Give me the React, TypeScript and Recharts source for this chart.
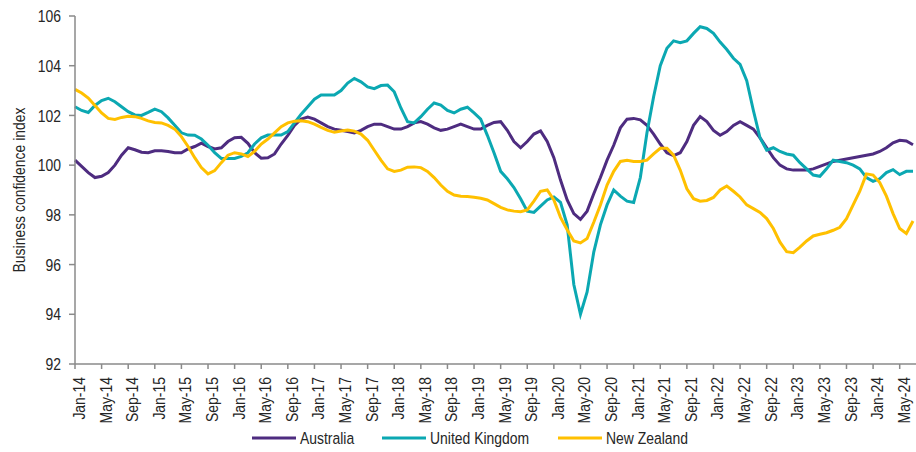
import { Legend, Line, LineChart, XAxis, YAxis } from "recharts";

const MONTH_NAMES = ["Jan", "Feb", "Mar", "Apr", "May", "Jun", "Jul", "Aug", "Sep", "Oct", "Nov", "Dec"];
const FIRST_YEAR = 14;

// monthly readings, Jan-14 .. Jul-24
const australia = [
  100.2, 99.95, 99.7, 99.5, 99.55, 99.7, 100.0, 100.4, 100.7, 100.62, 100.52, 100.5,
  100.58, 100.58, 100.55, 100.5, 100.5, 100.65, 100.75, 100.88, 100.75, 100.65, 100.7, 100.95,
  101.1, 101.12, 100.88, 100.5, 100.28, 100.3, 100.45, 100.85, 101.2, 101.6, 101.85, 101.93,
  101.85, 101.7, 101.55, 101.45, 101.4, 101.35, 101.3, 101.4, 101.55, 101.65, 101.65, 101.55,
  101.45, 101.45, 101.55, 101.7, 101.75, 101.65, 101.5, 101.4, 101.45, 101.55, 101.65, 101.55,
  101.45, 101.45, 101.6, 101.72, 101.75, 101.4, 100.95, 100.7, 100.95, 101.25, 101.38, 100.95,
  100.3, 99.4, 98.6, 98.05, 97.82, 98.15, 98.85, 99.5, 100.2, 100.8, 101.5, 101.85,
  101.88, 101.82, 101.6, 101.25, 100.85, 100.5, 100.38, 100.5, 100.95, 101.6, 101.95, 101.75,
  101.4, 101.2, 101.35, 101.6, 101.75, 101.6, 101.45, 101.1, 100.7, 100.3, 100.0, 99.85,
  99.8, 99.8, 99.8, 99.85, 99.95, 100.05, 100.15, 100.2, 100.25, 100.3, 100.35, 100.4,
  100.45, 100.55, 100.7, 100.9, 101.0, 100.97, 100.82,
];

const unitedKingdom = [
  102.35, 102.2, 102.12, 102.4, 102.6, 102.69, 102.55, 102.35, 102.15, 102.02, 102.0, 102.12,
  102.25, 102.15, 101.9, 101.6, 101.3, 101.21, 101.2, 101.05, 100.8, 100.5, 100.27, 100.27,
  100.27, 100.35, 100.5, 100.85, 101.1, 101.21, 101.21, 101.21, 101.35, 101.7, 102.05, 102.35,
  102.65, 102.82, 102.82, 102.82, 103.0, 103.3, 103.49, 103.35, 103.15, 103.08, 103.2, 103.22,
  102.95, 102.3, 101.75, 101.7, 101.95, 102.25, 102.5, 102.42, 102.2, 102.1, 102.25, 102.33,
  102.1, 101.85, 101.2, 100.5, 99.75, 99.45, 99.1, 98.65, 98.15, 98.1, 98.35, 98.6,
  98.72, 98.5, 97.6, 95.2, 94.0, 94.9, 96.5, 97.6, 98.4, 99.0, 98.75, 98.55,
  98.5, 99.5, 101.3, 102.75, 104.0, 104.7, 105.0, 104.93, 105.0, 105.3, 105.57, 105.5,
  105.3, 104.95, 104.65, 104.3, 104.05, 103.4, 102.2, 101.1, 100.6, 100.7, 100.55, 100.45,
  100.4, 100.1, 99.85, 99.6, 99.55, 99.85, 100.2, 100.15, 100.1, 100.0, 99.85, 99.5,
  99.35, 99.45, 99.7, 99.82, 99.62, 99.75, 99.75,
];

const newZealand = [
  103.05, 102.9, 102.7, 102.4, 102.1, 101.88, 101.84, 101.92, 101.97, 101.95, 101.88, 101.78,
  101.72, 101.7, 101.6, 101.45, 101.15, 100.75, 100.3, 99.9, 99.65, 99.78, 100.1, 100.4,
  100.5, 100.45, 100.35, 100.55, 100.85, 101.05, 101.3, 101.55, 101.7, 101.77, 101.79, 101.75,
  101.65, 101.52, 101.4, 101.32, 101.37, 101.41, 101.37, 101.25, 101.0, 100.6, 100.2, 99.85,
  99.75, 99.8, 99.92, 99.93, 99.9, 99.75, 99.5, 99.2, 98.95, 98.8, 98.75, 98.74,
  98.71, 98.67, 98.6, 98.45, 98.3, 98.2, 98.15, 98.13, 98.2, 98.55, 98.95, 99.0,
  98.6, 97.9, 97.4, 96.95, 96.87, 97.05, 97.7, 98.4, 99.2, 99.75, 100.15, 100.2,
  100.15, 100.15, 100.2, 100.45, 100.68, 100.68, 100.4, 99.8, 99.05, 98.65, 98.55, 98.58,
  98.7, 99.0, 99.16, 98.95, 98.72, 98.4, 98.25, 98.1, 97.85, 97.45, 96.9, 96.52,
  96.48, 96.7, 96.95, 97.15, 97.22, 97.28, 97.38, 97.5, 97.85, 98.4, 98.95, 99.65,
  99.6, 99.3, 98.75, 98.05, 97.45, 97.25, 97.75,
];

const months = australia.map(
  (_, i) => `${MONTH_NAMES[i % 12]}-${FIRST_YEAR + Math.floor(i / 12)}`
);
const yTicks = [92, 94, 96, 98, 100, 102, 104, 106];

const series = [
  { key: "australia", label: "Australia", color: "#4E2C80" },
  { key: "unitedKingdom", label: "United Kingdom", color: "#0BA8B2" },
  { key: "newZealand", label: "New Zealand", color: "#FFC000" },
];

const data = months.map((name, i) => ({
  name,
  australia: australia[i],
  unitedKingdom: unitedKingdom[i],
  newZealand: newZealand[i],
}));

// no Arial Narrow here, so squeeze Liberation Sans the same way
const FONT = '"Liberation Sans", Arial, sans-serif';
const NARROW = 0.82;
const FS = 17;
const TEXT = "#262626";
const AXIS = "#8a8a8a";

function NarrowText({ x, y, rotate = 0, anchor, dy, children }: any) {
  return (
    <g transform={`translate(${x}, ${y}) rotate(${rotate}) scale(${NARROW}, 1)`}>
      <text x={0} y={0} dy={dy} textAnchor={anchor} fill={TEXT} fontSize={FS} fontFamily={FONT}>
        {children}
      </text>
    </g>
  );
}

function MonthTick({ x, y, payload }: any) {
  return (
    <NarrowText x={x} y={y} rotate={-90} anchor="end" dy={10}>
      {payload.value}
    </NarrowText>
  );
}

function ValueTick({ x, y, payload }: any) {
  return (
    <NarrowText x={x} y={y} anchor="end" dy="0.36em">
      {payload.value}
    </NarrowText>
  );
}

function AxisTitle({ viewBox }: any) {
  const cy = viewBox.y + viewBox.height / 2;
  return (
    <NarrowText x={19} y={cy} rotate={-90} anchor="middle" dy="0.36em">
      Business confidence index
    </NarrowText>
  );
}

const legendSlots = [252, 382, 558];

function LegendRow() {
  return (
    <svg width={916} height={20} style={{ display: "block" }}>
      {series.map((s, i) => (
        <g key={s.key}>
          <line
            x1={legendSlots[i]}
            x2={legendSlots[i] + 44}
            y1={10}
            y2={10}
            stroke={s.color}
            strokeWidth={3}
          />
          <NarrowText x={legendSlots[i] + 48} y={10} anchor="start" dy="0.36em">
            {s.label}
          </NarrowText>
        </g>
      ))}
    </svg>
  );
}

export default function App() {
  return (
    <div style={{ position: "absolute", left: 0, top: 0, background: "#fff" }}>
      <LineChart
        width={916}
        height={452}
        data={data}
        margin={{ top: 16, right: 0, bottom: 4, left: 0 }}
      >
        <XAxis
          dataKey="name"
          interval={3}
          height={64}
          tick={<MonthTick />}
          tickSize={5}
          tickMargin={8}
          padding={{ left: 0, right: 3 }}
          stroke={AXIS}
          strokeWidth={1.5}
        />
        <YAxis
          width={75}
          domain={[92, 106]}
          ticks={yTicks}
          tickSize={6}
          tickMargin={8}
          stroke={AXIS}
          strokeWidth={1.5}
          tick={<ValueTick />}
          label={(props: any) => <AxisTitle {...props} />}
        />
        <Legend verticalAlign="bottom" height={20} content={() => <LegendRow />} />
        {series.map((s) => (
          <Line
            key={s.key}
            type="linear"
            dataKey={s.key}
            name={s.label}
            stroke={s.color}
            strokeWidth={3}
            dot={false}
            isAnimationActive={false}
          />
        ))}
      </LineChart>
    </div>
  );
}
